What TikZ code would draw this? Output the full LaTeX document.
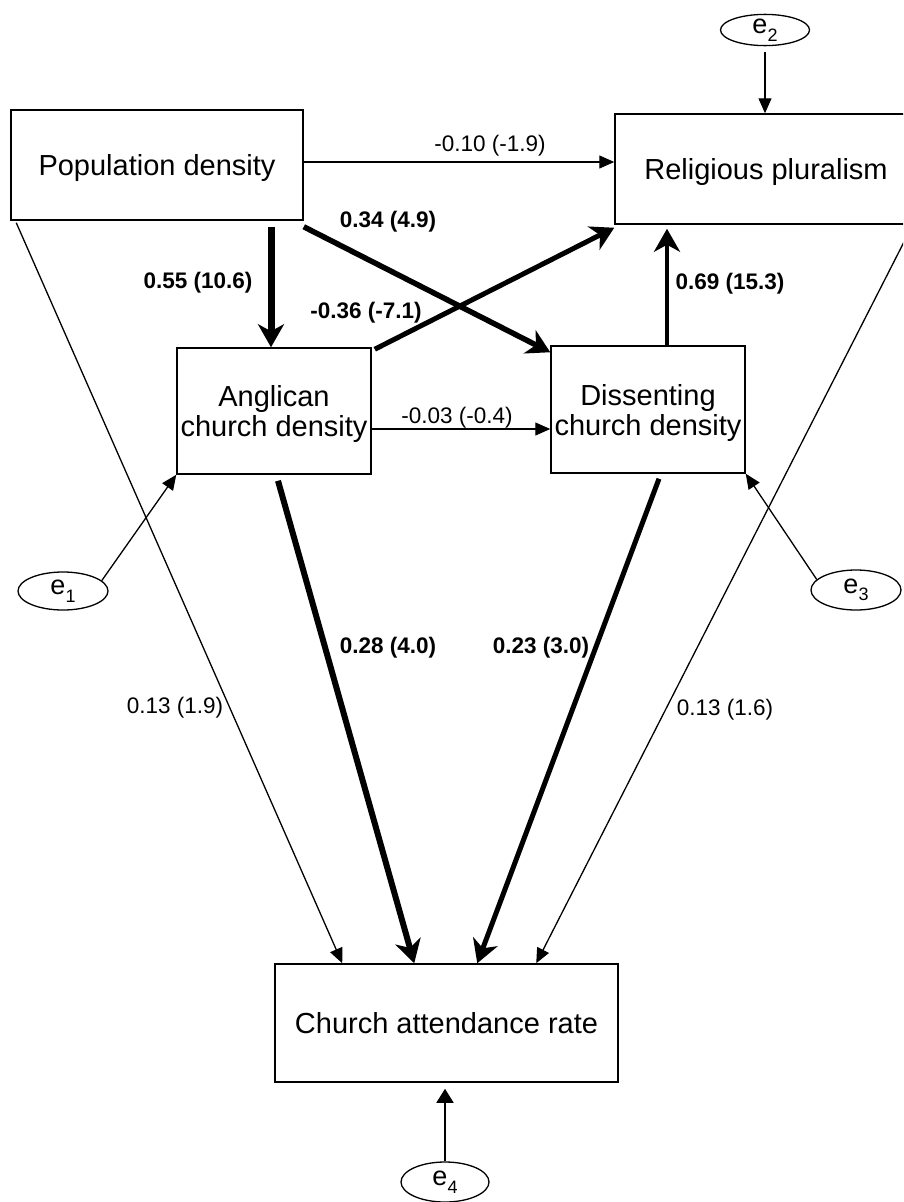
\documentclass[tikz,border=0pt]{standalone}
\usepackage{fontspec}
\setmainfont{Liberation Sans}
\usetikzlibrary{arrows.meta,calc,shapes.geometric}
\newcommand{\esub}[1]{e\raisebox{-0.28em}{\fontsize{18}{18}\selectfont #1}}
\begin{document}
\begin{tikzpicture}[x=1pt,y=-1pt,
  box/.style={draw, line width=1.5pt, inner sep=0pt, align=center, text depth=-6pt, font=\fontsize{29}{30}\selectfont},
  err/.style={draw, ellipse, line width=1.3pt, inner sep=0pt, font=\fontsize{27}{28}\selectfont},
  thinarr/.style={line width=1.3pt, -{Triangle[length=15pt,width=13pt]}},
  heavy/.style={line width=#1, -{Stealth[length=23pt,width=26pt,inset=7pt]}},
  lab/.style={font=\fontsize{22.5}{24}\selectfont, inner sep=0pt},
  blab/.style={font=\bfseries\fontsize{22.5}{24}\selectfont, inner sep=0pt}]
\useasboundingbox (0,0) rectangle (903,1202);
\clip (0,0) rectangle (903,1202);
% boxes
\node[box, minimum width=292pt, minimum height=110pt] (pd) at (157,165) {Population density};
\node[box, minimum width=302pt, minimum height=110pt] (rp) at (766,169) {Religious pluralism};
\node[box, minimum width=194pt, minimum height=126pt] (ang) at (274,411) {Anglican\\church density};
\node[box, minimum width=194pt, minimum height=127pt] (diss) at (648,409.5) {Dissenting\\church density};
\node[box, minimum width=343pt, minimum height=118pt, text depth=-2pt] (ca) at (446.5,1023) {Church attendance rate};
% error terms
\node[err, minimum width=89pt, minimum height=31pt] (e2) at (765,30) {\esub{2}};
\node[err, minimum width=90pt, minimum height=38pt] (e1) at (63,591) {\esub{1}};
\node[err, minimum width=90pt, minimum height=40pt] (e3) at (856,590) {\esub{3}};
\node[err, minimum width=88pt, minimum height=40pt] (e4) at (445,1182) {\esub{4}};
% connectors
\draw[thinarr] ([yshift=3pt]pd.east) -- ([yshift=3pt]pd.east -| rp.west);
\draw[thinarr, shorten <=6pt] (e2.south) -- (e2.south |- rp.north);
\draw[heavy=7pt, shorten <=6pt] ([xshift=-3pt]ang.north |- pd.south) -- ([xshift=-3pt]ang.north);
\draw[heavy=5.5pt] ([yshift=-6pt]pd.south east) -- ([yshift=-7pt]diss.north west);
\draw[heavy=5pt] ([xshift=3pt,yshift=-2pt]ang.north east) -- ([yshift=-3pt]rp.south west);
\draw[heavy=4.5pt, shorten >=4pt] ([xshift=19pt]diss.north) -- ([xshift=19pt]diss.north |- rp.south);
\draw[thinarr] ([yshift=-18pt]ang.east) -- ([yshift=-18pt]ang.east -| diss.west);
\draw[thinarr] (e1.15) -- (ang.south west);
\draw[thinarr] (e3.165) -- (diss.south east);
\draw[line width=1.6pt, -{Triangle[length=14pt,width=17pt]}, shorten >=6pt] (e4.north) -- (e4.north |- ca.south);
\draw[thinarr] ([xshift=6pt,yshift=-2pt]pd.south west) -- ([xshift=68pt]ca.north west);
\draw[heavy=6pt] ([xshift=4pt,yshift=-6pt]ang.south) -- ([xshift=140pt]ca.north west);
\draw[heavy=5pt] ([xshift=11pt,yshift=-5pt]diss.south) -- ([xshift=203pt]ca.north west);
\draw[thinarr] ([xshift=-6pt,yshift=-2pt]rp.south east) -- ([xshift=262pt]ca.north west);
% labels
\node[lab] (l1) at (490,146) {-0.10 (-1.9)};
\node[blab] (l2) at (388,222) {0.34 (4.9)};
\node[blab] (l3) at (198,283) {0.55 (10.6)};
\node[blab] (l4) at (366,313) {-0.36 (-7.1)};
\node[blab] (l5) at (730,284) {0.69 (15.3)};
\node[lab] (l6) at (457,418) {-0.03 (-0.4)};
\node[blab] (l7) at (388,648) {0.28 (4.0)};
\node[blab] (l8) at (541,648) {0.23 (3.0)};
\node[lab] (l9) at (175,708) {0.13 (1.9)};
\node[lab] (l10) at (725,710) {0.13 (1.6)};
\end{tikzpicture}
\end{document}
